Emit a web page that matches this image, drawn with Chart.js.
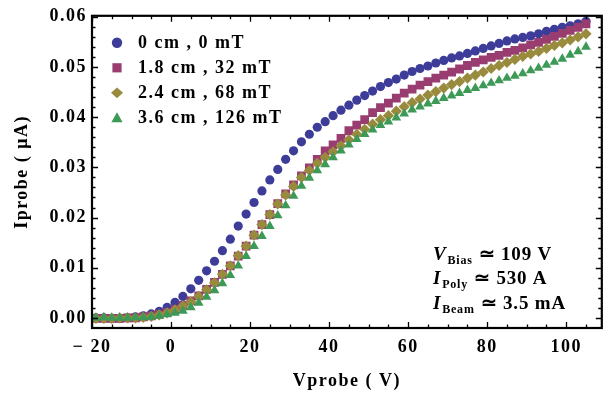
<!DOCTYPE html>
<html><head><meta charset="utf-8">
<script src="https://cdn.jsdelivr.net/npm/chart.js@4/dist/chart.umd.min.js"></script>
<style>html,body{margin:0;padding:0;background:#fff}#wrap{width:608px;height:400px;position:relative}</style>
</head><body><div id="wrap"><canvas id="c" width="608" height="400"></canvas></div>
<script>
const vprobe = [-19,-17,-15,-13,-11,-9,-7,-5,-3,-1,1,3,5,7,9,11,13,15,17,19,21,23,25,27,29,31,33,35,37,39,41,43,45,47,49,51,53,55,57,59,61,63,65,67,69,71,73,75,77,79,81,83,85,87,89,91,93,95,97,99,101,103,105];
const i0cm = [0.0000,0.0000,-0.0001,-0.0001,0.0000,0.0002, 0.0004,0.0008,0.0013,0.0021,0.0031,
  0.0043,0.0058,0.0075,0.0094,0.0113,0.0134,0.0157,0.0183,0.0207,0.0230,
  0.0253,0.0275,0.0296,0.0316,0.0333,0.0351,0.0366,0.0380,0.0391,0.0403,
  0.0414,0.0424,0.0434,0.0443,0.0452,0.0461,0.0469,0.0476,0.0484,0.0491,
  0.0497,0.0502,0.0508,0.0513,0.0518,0.0522,0.0527,0.0532,0.0537,0.0542,
  0.0547,0.0552,0.0556,0.0559,0.0562,0.0566,0.0571,0.0575,0.0579,0.0582,
  0.0586,0.0591];
const i18cm = [-0.0001,-0.0001,-0.0001,-0.0001,0.0000,0.0000, 0.0002,0.0004,0.0007,0.0011,0.0017,
  0.0025,0.0034,0.0044,0.0057,0.0071,0.0087,0.0104,0.0123,0.0143,0.0165,
  0.0186,0.0206,0.0228,0.0247,0.0265,0.0283,0.0299,0.0316,0.0333,0.0345,
  0.0358,0.0373,0.0384,0.0395,0.0409,0.0419,0.0428,0.0438,0.0448,0.0456,
  0.0464,0.0471,0.0478,0.0484,0.0490,0.0496,0.0503,0.0509,0.0514,0.0519,
  0.0523,0.0529,0.0533,0.0538,0.0544,0.0549,0.0555,0.0561,0.0567,0.0573,
  0.0579,0.0586];
const i24cm = [-0.0001,-0.0001,-0.0001,0.0000,0.0000,0.0000, 0.0001,0.0003,0.0006,0.0010,0.0016,
  0.0024,0.0032,0.0043,0.0056,0.0070,0.0087,0.0104,0.0124,0.0143,0.0165,
  0.0186,0.0206,0.0227,0.0245,0.0262,0.0280,0.0294,0.0308,0.0320,0.0331,
  0.0343,0.0355,0.0366,0.0376,0.0386,0.0395,0.0403,0.0412,0.0421,0.0429,
  0.0436,0.0444,0.0451,0.0458,0.0465,0.0471,0.0478,0.0484,0.0490,0.0497,
  0.0503,0.0509,0.0515,0.0521,0.0526,0.0531,0.0537,0.0543,0.0548,0.0554,
  0.0560,0.0566];
const i36cm = [0.0000,0.0001,0.0000,0.0000,0.0000,0.0001, 0.0001,0.0002,0.0004,0.0007,0.0010,
  0.0014,0.0021,0.0030,0.0042,0.0055,0.0069,0.0085,0.0104,0.0123,0.0143,
  0.0163,0.0183,0.0204,0.0224,0.0243,0.0263,0.0279,0.0294,0.0306,0.0320,
  0.0333,0.0345,0.0356,0.0366,0.0375,0.0384,0.0391,0.0399,0.0407,0.0415,
  0.0421,0.0427,0.0432,0.0438,0.0443,0.0448,0.0454,0.0458,0.0463,0.0468,
  0.0473,0.0478,0.0482,0.0487,0.0493,0.0498,0.0504,0.0510,0.0516,0.0524,
  0.0531,0.0540];
const seriesLabels = ['0 cm , 0 mT', '1.8 cm , 32 mT', '2.4 cm , 68 mT', '3.6 cm , 126 mT'];
const xTicks = [-20, 0, 20, 40, 60, 80, 100];
const yTicks = [0.00, 0.01, 0.02, 0.03, 0.04, 0.05, 0.06];
const xMinorStep = 5, yMinorStep = 0.002;

const FONT = "'Liberation Serif', 'Times New Roman', serif";
const colors = ['#3d3d99', '#993d71', '#998b3d', '#3d9956'];
const styles = ['circle', 'rect', 'rectRot', 'triangle'];
const radii = [4.6, 6.2, 5.6, 5.6];
const seriesData = [i0cm, i18cm, i24cm, i36cm];

const datasets = seriesData.map((arr, k) => ({
  label: seriesLabels[k],
  data: arr.map((v, i) => ({x: vprobe[i], y: v})),
  showLine: false,
  pointStyle: styles[k],
  pointRadius: radii[k],
  pointHoverRadius: radii[k],
  backgroundColor: colors[k],
  borderColor: colors[k],
  pointBorderWidth: 0,
  order: 4 - k
}));

const spacingPlugin = {
  id: 'spacing',
  beforeInit(chart) { chart.ctx.letterSpacing = '1.5px'; },
  beforeDraw(chart) { chart.ctx.letterSpacing = '1.5px'; }
};

const framePlugin = {
  id: 'frame',
  afterDatasetsDraw(chart) {
    const {ctx, chartArea: a, scales: {x, y}} = chart;
    ctx.save();
    ctx.strokeStyle = '#000';
    ctx.lineWidth = 1.3;
    ctx.beginPath();
    for (let v = x.min; v <= x.max + 1e-9; v += 1) {
      if (Math.round(v) % xMinorStep !== 0) continue;
      const px = Math.round(x.getPixelForValue(v)) + 0.5;
      const L = (v % 20 === 0) ? 6 : 3.5;
      ctx.moveTo(px, a.bottom); ctx.lineTo(px, a.bottom - L);
      ctx.moveTo(px, a.top); ctx.lineTo(px, a.top + L);
    }
    for (let n = 0; n * yMinorStep <= y.max + 1e-9; n++) {
      const v = n * yMinorStep;
      const py = Math.round(y.getPixelForValue(v)) + 0.5;
      const L = (n % 5 === 0) ? 6 : 3.5;
      ctx.moveTo(a.left, py); ctx.lineTo(a.left + L, py);
      ctx.moveTo(a.right, py); ctx.lineTo(a.right - L, py);
    }
    ctx.stroke();
    ctx.lineWidth = 2.2;
    ctx.strokeRect(a.left, a.top, a.right - a.left, a.bottom - a.top);

    // legend
    chart.data.datasets.forEach((ds, k) => {
      const cy = a.top + 27 + k * 25;
      const cx = a.left + 25;
      ctx.fillStyle = ds.backgroundColor;
      ctx.beginPath();
      if (k === 0) { ctx.arc(cx, cy, 5.2, 0, Math.PI * 2); }
      else if (k === 1) { ctx.rect(cx - 4.6, cy - 4.6, 9.2, 9.2); }
      else if (k === 2) { ctx.moveTo(cx, cy - 5.4); ctx.lineTo(cx + 6, cy); ctx.lineTo(cx, cy + 5.4); ctx.lineTo(cx - 6, cy); ctx.closePath(); }
      else { ctx.moveTo(cx, cy - 5.5); ctx.lineTo(cx + 5.6, cy + 4.5); ctx.lineTo(cx - 5.6, cy + 4.5); ctx.closePath(); }
      ctx.fill();
      ctx.fillStyle = '#000';
      ctx.font = 'bold 18px ' + FONT;
      ctx.letterSpacing = '1.5px';
      ctx.textBaseline = 'middle';
      ctx.textAlign = 'left';
      ctx.fillText(ds.label, a.left + 46, cy + 1);
    });

    // annotation
    const lines = [['V', 'Bias', '109 V'], ['I', 'Poly', '530 A'], ['I', 'Beam', '3.5 mA']];
    ctx.textBaseline = 'alphabetic';
    lines.forEach((ln, k) => {
      let px = a.left + 341;
      const by = a.top + 244 + k * 24.5;
      ctx.letterSpacing = '0.8px';
      ctx.font = 'italic bold 19px ' + FONT;
      ctx.fillText(ln[0], px, by);
      px += ctx.measureText(ln[0]).width + 1;
      ctx.font = 'bold 12px ' + FONT;
      ctx.fillText(ln[1], px, by + 4);
      px += ctx.measureText(ln[1]).width + 6;
      ctx.font = 'bold 19px ' + FONT;
      ctx.fillText('\u2243 ' + ln[2], px, by);
    });
    ctx.restore();
  }
};

new Chart(document.getElementById('c'), {
  type: 'scatter',
  data: {datasets},
  options: {
    responsive: false,
    animation: false,
    devicePixelRatio: 1,
    layout: {padding: {top: 9, right: 2, left: 0, bottom: 0}},
    plugins: {legend: {display: false}, tooltip: {enabled: false}},
    scales: {
      x: {
        type: 'linear', min: -20, max: 109,
        afterBuildTicks: s => { s.ticks = xTicks.map(v => ({value: v})); },
        afterFit: s => { s.height = 72; },
        grid: {display: false, drawTicks: false},
        border: {display: false},
        ticks: {
          padding: 9, color: '#000', maxRotation: 0,
          font: {family: FONT, size: 18, weight: 'bold'},
          callback: v => v < 0 ? '\u2212 ' + Math.abs(v) : String(v)
        },
        title: {display: true, text: 'Vprobe ( V)', color: '#000', padding: {top: 0, bottom: 8},
          font: {family: FONT, size: 18, weight: 'bold'}}
      },
      y: {
        type: 'linear', min: -0.002, max: 0.0602,
        afterBuildTicks: s => { s.ticks = yTicks.map(v => ({value: v})); },
        afterFit: s => { s.width = 92; },
        grid: {display: false, drawTicks: false},
        border: {display: false},
        ticks: {
          padding: 5, color: '#000',
          font: {family: FONT, size: 18, weight: 'bold'},
          callback: v => Number(v).toFixed(2)
        },
        title: {display: true, text: 'Iprobe ( \u03BCA)', color: '#000', padding: {top: 12, bottom: 0},
          font: {family: FONT, size: 18, weight: 'bold'}}
      }
    }
  },
  plugins: [spacingPlugin, framePlugin]
});
</script></body></html>
